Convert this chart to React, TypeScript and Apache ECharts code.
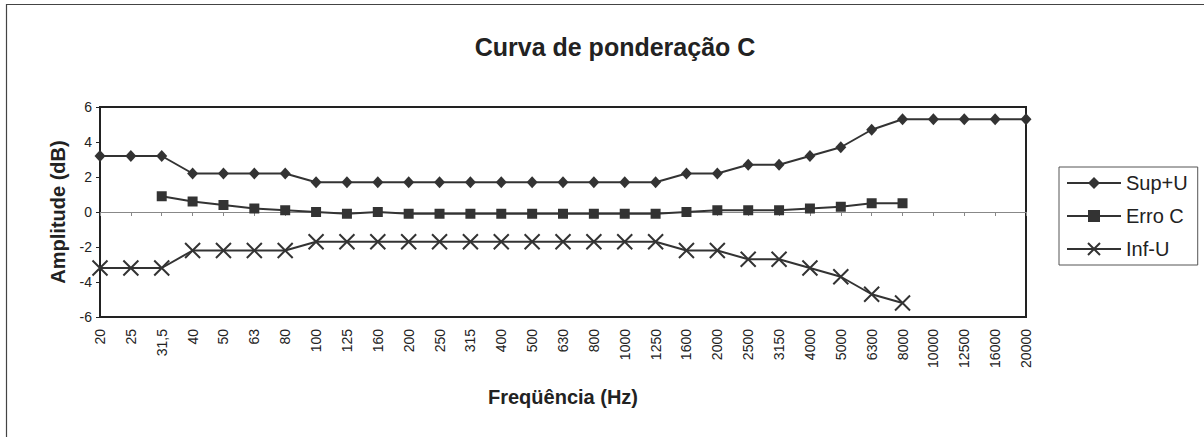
import React, { useEffect, useRef } from "react";
import * as echarts from "echarts";

const categories = ["20","25","31,5","40","50","63","80","100","125","160","200","250","315","400","500","630","800","1000","1250","1600","2000","2500","3150","4000","5000","6300","8000","10000","12500","16000","20000"];

const supU = [3.2,3.2,3.2,2.2,2.2,2.2,2.2,1.7,1.7,1.7,1.7,1.7,1.7,1.7,1.7,1.7,1.7,1.7,1.7,2.2,2.2,2.7,2.7,3.2,3.7,4.7,5.3,5.3,5.3,5.3,5.3];
const erroC = [null,null,0.9,0.6,0.4,0.2,0.1,0,-0.1,0,-0.1,-0.1,-0.1,-0.1,-0.1,-0.1,-0.1,-0.1,-0.1,0,0.1,0.1,0.1,0.2,0.3,0.5,0.5,null,null,null,null];
const infU = [-3.2,-3.2,-3.2,-2.2,-2.2,-2.2,-2.2,-1.7,-1.7,-1.7,-1.7,-1.7,-1.7,-1.7,-1.7,-1.7,-1.7,-1.7,-1.7,-2.2,-2.2,-2.7,-2.7,-3.2,-3.7,-4.7,-5.2,null,null,null,null];

const yTicks = { min: -6, max: 6, interval: 2 };
const FONT = "'Liberation Sans', Arial, sans-serif";
const INK = "#333";

export default function App() {
  const ref = useRef<HTMLDivElement>(null);
  useEffect(() => {
    if (!ref.current) return;
    const chart = echarts.init(ref.current, null, { renderer: "svg" });
    const lineSeries = (name: string, data: (number | null)[], symbol: string, size: any, extra: any = {}) => ({
      name,
      type: "line",
      data,
      symbol,
      symbolSize: size,
      showAllSymbol: true,
      connectNulls: false,
      color: INK,
      lineStyle: { color: INK, width: 2 },
      itemStyle: { color: INK, ...extra },
      emphasis: { disabled: true },
    });
    chart.setOption({
      animation: false,
      textStyle: { fontFamily: FONT },
      title: {
        text: "Curva de ponderação C",
        left: 610,
        top: 29,
        textAlign: "center",
        textStyle: { fontSize: 25, fontWeight: "bold", color: "#222", fontFamily: FONT },
      },
      legend: {
        orient: "vertical",
        left: 1059,
        top: 167,
        itemWidth: 54,
        itemHeight: 15,
        itemGap: 13,
        padding: [6, 10, 6, 7],
        borderColor: "#555",
        borderWidth: 1,
        textStyle: { fontSize: 20, color: "#222", fontFamily: FONT },
        data: ["Sup+U", "Erro C", "Inf-U"],
      },
      grid: {
        left: 100,
        right: 178,
        top: 107,
        bottom: 120,
        show: true,
        borderColor: "#222",
        borderWidth: 2,
        backgroundColor: "transparent",
      },
      xAxis: [
        {
          type: "category",
          data: categories,
          boundaryGap: false,
          position: "bottom",
          axisLine: { show: false, onZero: false },
          axisTick: { show: false },
          axisLabel: { rotate: 90, fontSize: 14, color: "#222", margin: 12, interval: 0, fontFamily: FONT },
          splitLine: { show: false },
          name: "Freqüência (Hz)",
          nameLocation: "middle",
          nameGap: 70,
          nameTextStyle: { fontSize: 20, fontWeight: "bold", color: "#222", fontFamily: FONT },
        },
        {
          type: "category",
          data: categories,
          boundaryGap: false,
          position: "bottom",
          axisLine: { show: true, onZero: true, lineStyle: { color: "#888", width: 1 } },
          axisTick: { show: true, length: 4, interval: 0, lineStyle: { color: "#888" } },
          axisLabel: { show: false },
          splitLine: { show: false },
        },
      ],
      yAxis: {
        type: "value",
        min: yTicks.min,
        max: yTicks.max,
        interval: yTicks.interval,
        axisLine: { show: true, lineStyle: { color: "#222", width: 2 } },
        axisTick: { show: true, length: 4, lineStyle: { color: "#222" } },
        axisLabel: { fontSize: 14, color: "#222", margin: 8, fontFamily: FONT },
        splitLine: { show: false },
        name: "Amplitude (dB)",
        nameLocation: "middle",
        nameRotate: 90,
        nameGap: 32,
        nameTextStyle: { fontSize: 20, fontWeight: "bold", color: "#222", fontFamily: FONT },
      },
      graphic: [
        {
          type: "polyline",
          shape: { points: [[6.5, 437], [6.5, 4.5], [1204, 4.5]] },
          style: { stroke: "#444", lineWidth: 1.2, fill: "none" },
          silent: true,
        },
      ],
      series: [
        lineSeries("Sup+U", supU, "diamond", [11, 12]),
        lineSeries("Erro C", erroC, "rect", 10),
        lineSeries("Inf-U", infU, "path://M0,0L10,10M10,0L0,10", 15, { borderColor: INK, borderWidth: 2 }),
      ],
    });
    return () => chart.dispose();
  }, []);
  return (
    <div
      ref={ref}
      style={{ position: "absolute", left: 0, top: 0, width: 1204, height: 437, background: "#fff" }}
    />
  );
}
